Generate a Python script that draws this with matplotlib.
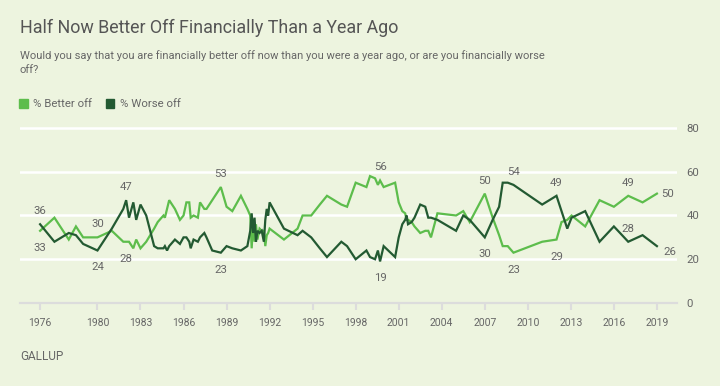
import matplotlib
matplotlib.use('Agg')
import matplotlib.pyplot as plt
from matplotlib.patches import Patch

# poll dates (decimal years) and percentages
dates = [1976.0, 1977.0, 1978.0, 1978.5, 1979.0, 1980.0, 1981.0, 1981.8, 1982.0, 1982.2,
         1982.5, 1982.7, 1983.0, 1983.4, 1983.95, 1984.2, 1984.6, 1984.7, 1984.85, 1985.0,
         1985.4, 1985.75, 1986.0, 1986.2, 1986.4, 1986.5, 1986.7, 1987.0, 1987.15, 1987.45,
         1987.6, 1988.0, 1988.6, 1989.0, 1989.4, 1990.0, 1990.45, 1990.65, 1990.75, 1990.85,
         1990.95, 1991.05, 1991.15, 1991.3, 1991.45, 1991.6, 1991.7, 1991.8, 1991.9, 1992.0,
         1993.0, 1993.95, 1994.3, 1994.9, 1995.5, 1996.0, 1997.0, 1997.4, 1998.0, 1998.75,
         1999.0, 1999.35, 1999.55, 1999.7, 1999.95, 2000.75, 2001.0, 2001.25, 2001.45, 2001.55,
         2001.65, 2001.9, 2002.1, 2002.5, 2002.85, 2003.06, 2003.25, 2003.7, 2005.0, 2005.5,
         2005.95, 2007.0, 2007.55, 2008.0, 2008.25, 2008.6, 2009.0, 2011.0, 2012.0, 2012.35,
         2012.75, 2013.05, 2014.0, 2015.0, 2016.0, 2017.0, 2018.0, 2019.0]

better = [33, 39, 29, 35, 30, 30, 33, 28, 28, 28,
          25, 29, 25, 28, 34, 37, 40, 39, 43, 47,
          43, 38, 40, 46, 46, 39, 40, 39, 46, 43,
          43, 47, 53, 44, 42, 49, 43, 40, 25, 37,
          28, 36, 29, 34, 33, 33, 26, 31, 32, 34,
          29, 34, 40, 40, 45, 49, 45, 44, 55, 53,
          58, 57, 54, 56, 53, 55, 46, 42, 41, 38,
          38, 37, 35, 32, 33, 33, 30, 41, 40, 42,
          37, 50, 39, 31, 26, 26, 23, 28, 29, 37,
          38, 40, 35, 47, 44, 49, 46, 50]

worse = [36, 28, 32, 31, 27, 24, 34, 43, 47, 39,
         46, 38, 45, 40, 26, 25, 25, 26, 24, 26,
         29, 27, 30, 30, 28, 25, 29, 28, 30, 32,
         30, 24, 23, 26, 25, 24, 26, 33, 41, 32,
         39, 28, 33, 32, 33, 28, 38, 43, 40, 46,
         34, 31, 33, 30, 25, 21, 28, 26, 20, 24,
         21, 20, 24, 19, 26, 21, 30, 36, 38, 40,
         36, 37, 39, 45, 44, 39, 39, 38, 33, 40,
         38, 30, 38, 44, 55, 55, 54, 45, 49, 42,
         34, 39, 42, 28, 35, 28, 31, 26]

year_ticks = [1976, 1980, 1983, 1986, 1989, 1992, 1995, 1998, 2001, 2004, 2007, 2010, 2013, 2016, 2019]
y_ticks = [0, 20, 40, 60, 80]

# which points get a number, and on which side
better_label_at = [1976.0, 1980.0, 1982.0, 1988.6, 1999.7, 2007.0, 2009.0, 2012.0, 2017.0, 2019.0]
better_label_side = ['below', 'above', 'below', 'above', 'above', 'above', 'below', 'below', 'above', 'right']
worse_label_at = [1976.0, 1980.0, 1982.0, 1988.6, 1999.7, 2007.0, 2009.0, 2012.0, 2017.0, 2019.0]
worse_label_side = ['above', 'below', 'above', 'below', 'below', 'below', 'above', 'above', 'above', 'right_low']

bg = '#edf4df'
light = '#5dbd4c'
dark = '#235a32'
txt = '#666666'
font = ['Roboto', 'DejaVu Sans']
plt.rcParams['font.family'] = font

fig = plt.figure(figsize=(7.2, 3.86), dpi=100, facecolor=bg)
ax = fig.add_axes([20/720, 1-303/386, 657/720, 177.2/386])
ax.set_facecolor(bg)

ax.plot(dates, better, color=light, lw=1.6, solid_joinstyle='miter', zorder=3)
ax.plot(dates, worse, color=dark, lw=1.6, solid_joinstyle='miter', zorder=3)

ax.set_xlim(1974.6, 2020.4)
ax.set_ylim(0, 81)
ax.set_yticks(y_ticks)
ax.set_xticks(year_ticks)
ax.yaxis.tick_right()
ax.yaxis.grid(True, color='white', lw=1.8)
ax.set_axisbelow(True)
for s in ['top', 'left', 'right']:
    ax.spines[s].set_visible(False)
ax.spines['bottom'].set_color('#dcdcdc')
ax.spines['bottom'].set_linewidth(1.6)
ax.tick_params(axis='y', length=0, pad=7, labelsize=8.2, labelcolor=txt)
ax.tick_params(axis='x', length=5, width=1.5, color='#dcdcdc', pad=6, labelsize=7.5, labelcolor=txt)

offsets = {'above': (0, 13, 'center'), 'below': (0, -17, 'center'),
           'right': (4, 0, 'left'), 'right_low': (7, -6, 'left')}

def put_labels(vals, at, sides):
    for d, side in zip(at, sides):
        i = dates.index(d)
        dx, dy, ha = offsets[side]
        ax.annotate(str(vals[i]), (dates[i], vals[i]), xytext=(dx, dy), textcoords='offset pixels',
                    ha=ha, va='center', fontsize=8.2, color=txt, zorder=4)

put_labels(better, better_label_at, better_label_side)
put_labels(worse, worse_label_at, worse_label_side)

fig.text(20/720, 1-28/386, 'Half Now Better Off Financially Than a Year Ago', fontsize=12.9,
         color='#555555', va='center', ha='left')
fig.text(20/720, 1-50/386, 'Would you say that you are financially better off now than you were a year ago, or are you financially worse\noff?',
         fontsize=8, color=txt, va='top', ha='left', linespacing=1.45)
fig.text(20/720, 1-356/386, 'GALLUP', fontsize=8.5, color=txt, va='center', ha='left')

handles = [Patch(color=light), Patch(color=dark)]
fig.legend(handles, ['% Better off', '% Worse off'], loc='center left',
           bbox_to_anchor=(19/720, 1-104/386), frameon=False, ncol=2, fontsize=8.2,
           handlelength=0.75, handleheight=0.95, handletextpad=0.5, columnspacing=1.2,
           borderaxespad=0, borderpad=0, labelcolor=txt)

fig.savefig('out.png', dpi=100, facecolor=bg)
